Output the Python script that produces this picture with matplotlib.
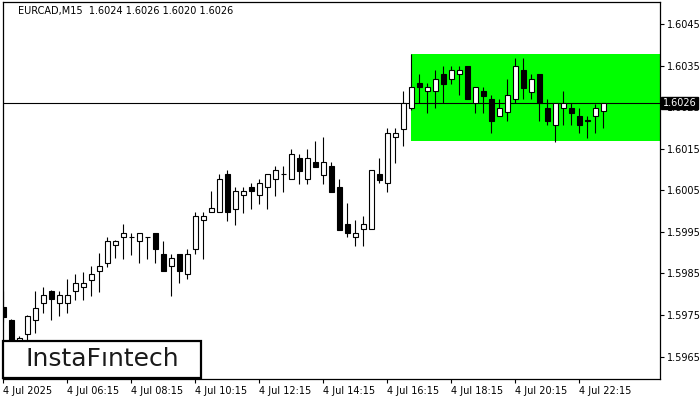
import matplotlib.pyplot as plt
from matplotlib.patches import Rectangle

# EURCAD M15 candles, 4 Jul 2025
opens = [1.59769, 1.59738, 1.59688, 1.59704, 1.59738, 1.59779, 1.59808, 1.59779, 1.59779, 1.59808,
         1.59817, 1.59834, 1.59856, 1.59875, 1.59919, 1.59938, 1.59937, 1.59928, 1.59938, 1.59947,
         1.59897, 1.59868, 1.59897, 1.59849, 1.59909, 1.59979, 1.59998, 1.59998, 1.60089, 1.60005,
         1.60039, 1.60058, 1.60039, 1.60058, 1.60077, 1.60089, 1.60077, 1.60128, 1.60077, 1.60118,
         1.60087, 1.60108, 1.60058, 1.59969, 1.59938, 1.59957, 1.59957, 1.60089, 1.60068, 1.60178,
         1.60197, 1.60248, 1.60308, 1.60289, 1.60289, 1.60330, 1.60318, 1.60330, 1.60349, 1.60260,
         1.60289, 1.60270, 1.60229, 1.60238, 1.60270, 1.60339, 1.60286, 1.60330, 1.60248, 1.60207,
         1.60248, 1.60248, 1.60229, 1.60218, 1.60229, 1.60240]
highs = [1.59808, 1.59741, 1.59700, 1.59750, 1.59808, 1.59817, 1.59810, 1.59808, 1.59837, 1.59849,
         1.59854, 1.59868, 1.59899, 1.59938, 1.59930, 1.59969, 1.59947, 1.59947, 1.59938, 1.59947,
         1.59928, 1.59897, 1.59897, 1.59909, 1.59998, 1.59998, 1.60048, 1.60089, 1.60099, 1.60058,
         1.60058, 1.60068, 1.60077, 1.60089, 1.60108, 1.60108, 1.60149, 1.60137, 1.60149, 1.60169,
         1.60178, 1.60118, 1.60077, 1.60020, 1.59979, 1.59988, 1.60099, 1.60128, 1.60200, 1.60200,
         1.60289, 1.60378, 1.60330, 1.60308, 1.60339, 1.60349, 1.60349, 1.60349, 1.60349, 1.60298,
         1.60298, 1.60279, 1.60270, 1.60318, 1.60368, 1.60368, 1.60330, 1.60330, 1.60270, 1.60260,
         1.60289, 1.60260, 1.60248, 1.60229, 1.60258, 1.60260]
lows = [1.59733, 1.59666, 1.59678, 1.59690, 1.59707, 1.59755, 1.59738, 1.59748, 1.59755, 1.59786,
        1.59786, 1.59796, 1.59805, 1.59866, 1.59887, 1.59885, 1.59894, 1.59875, 1.59885, 1.59875,
        1.59856, 1.59796, 1.59827, 1.59837, 1.59897, 1.59885, 1.59998, 1.59998, 1.59976, 1.59967,
        1.59995, 1.60005, 1.60017, 1.60005, 1.60036, 1.60046, 1.60077, 1.60065, 1.60065, 1.60106,
        1.60065, 1.60046, 1.59955, 1.59938, 1.59916, 1.59916, 1.59957, 1.60068, 1.60046, 1.60116,
        1.60157, 1.60243, 1.60260, 1.60236, 1.60248, 1.60260, 1.60306, 1.60279, 1.60270, 1.60236,
        1.60236, 1.60188, 1.60229, 1.60217, 1.60260, 1.60270, 1.60270, 1.60217, 1.60207, 1.60166,
        1.60207, 1.60207, 1.60188, 1.60176, 1.60188, 1.60200]
closes = [1.59745, 1.59676, 1.59695, 1.59748, 1.59767, 1.59798, 1.59789, 1.59798, 1.59798, 1.59827,
          1.59827, 1.59849, 1.59868, 1.59928, 1.59928, 1.59947, 1.59938, 1.59947, 1.59938, 1.59909,
          1.59856, 1.59887, 1.59856, 1.59897, 1.59988, 1.59988, 1.60007, 1.60077, 1.59998, 1.60048,
          1.60048, 1.60048, 1.60068, 1.60089, 1.60099, 1.60089, 1.60137, 1.60096, 1.60128, 1.60106,
          1.60118, 1.60046, 1.59955, 1.59947, 1.59947, 1.59969, 1.60099, 1.60075, 1.60188, 1.60188,
          1.60260, 1.60298, 1.60298, 1.60298, 1.60318, 1.60306, 1.60339, 1.60339, 1.60270, 1.60298,
          1.60277, 1.60217, 1.60248, 1.60279, 1.60349, 1.60296, 1.60318, 1.60260, 1.60217, 1.60260,
          1.60260, 1.60236, 1.60207, 1.60217, 1.60248, 1.60260]

time_labels = ["4 Jul 2025", "4 Jul 06:15", "4 Jul 08:15", "4 Jul 10:15", "4 Jul 12:15",
               "4 Jul 14:15", "4 Jul 16:15", "4 Jul 18:15", "4 Jul 20:15", "4 Jul 22:15"]
label_bars = [0, 8, 16, 24, 32, 40, 48, 56, 64, 72]

price_ticks = [1.5965, 1.5975, 1.5985, 1.5995, 1.6005, 1.6015, 1.6025, 1.6035, 1.6045]
bid = 1.6026
zone_start, zone_low, zone_high = 51, 1.60169, 1.60378
title = "EURCAD,M15  1.6024 1.6026 1.6020 1.6026"

fig = plt.figure(figsize=(7, 4), dpi=100)
ax = fig.add_axes([3 / 700, 21 / 400, 657 / 700, 377 / 400])
x_max = 82.1
ax.set_xlim(-0.04, x_max)
ax.set_ylim(1.59596, 1.60503)

# pattern zone
ax.add_patch(Rectangle((zone_start, zone_low), x_max - zone_start, zone_high - zone_low,
                       facecolor='#00ff00', edgecolor='none', zorder=1))
ax.axhline(bid, color='black', linewidth=0.8, zorder=2)

for i in range(len(opens)):
    o, h, l, c = opens[i], highs[i], lows[i], closes[i]
    ax.vlines(i, l, h, color='black', linewidth=0.8, zorder=3)
    fc = 'white' if c >= o else 'black'
    ax.bar(i, abs(c - o), bottom=min(o, c), width=0.6, color=fc,
           edgecolor='black', linewidth=0.8, zorder=4)

ax.yaxis.tick_right()
ax.set_yticks(price_ticks)
ax.set_yticklabels([f"{p:.4f}" for p in price_ticks])
ax.set_xticks(label_bars)
ax.set_xticklabels(time_labels, ha='left')
ax.tick_params(axis='both', labelsize=7, length=3, width=0.8, colors='black', pad=2)
for s in ax.spines.values():
    s.set_linewidth(0.9)

# bid price tag sits over the 1.6025 label, as in the terminal
ax.annotate(f"{bid:.4f}", xy=(1.004, bid), xycoords=('axes fraction', 'data'),
            ha='left', va='center', fontsize=7, color='white',
            bbox=dict(boxstyle='square,pad=0.15', fc='black', ec='black'), zorder=10)

ax.text(0.023, 0.976, title, transform=ax.transAxes, fontsize=7, ha='left', va='center')

fig.add_artist(Rectangle((3 / 700, 22 / 400), 198 / 700, 37 / 400, transform=fig.transFigure,
                         facecolor='white', edgecolor='black', linewidth=1.6, zorder=20))
fig.text(102 / 700, 41 / 400, "InstaF\u0131ntech", fontsize=18, color='#1a1a1a',
         ha='center', va='center', zorder=21)

fig.savefig('out.png', dpi=100)
